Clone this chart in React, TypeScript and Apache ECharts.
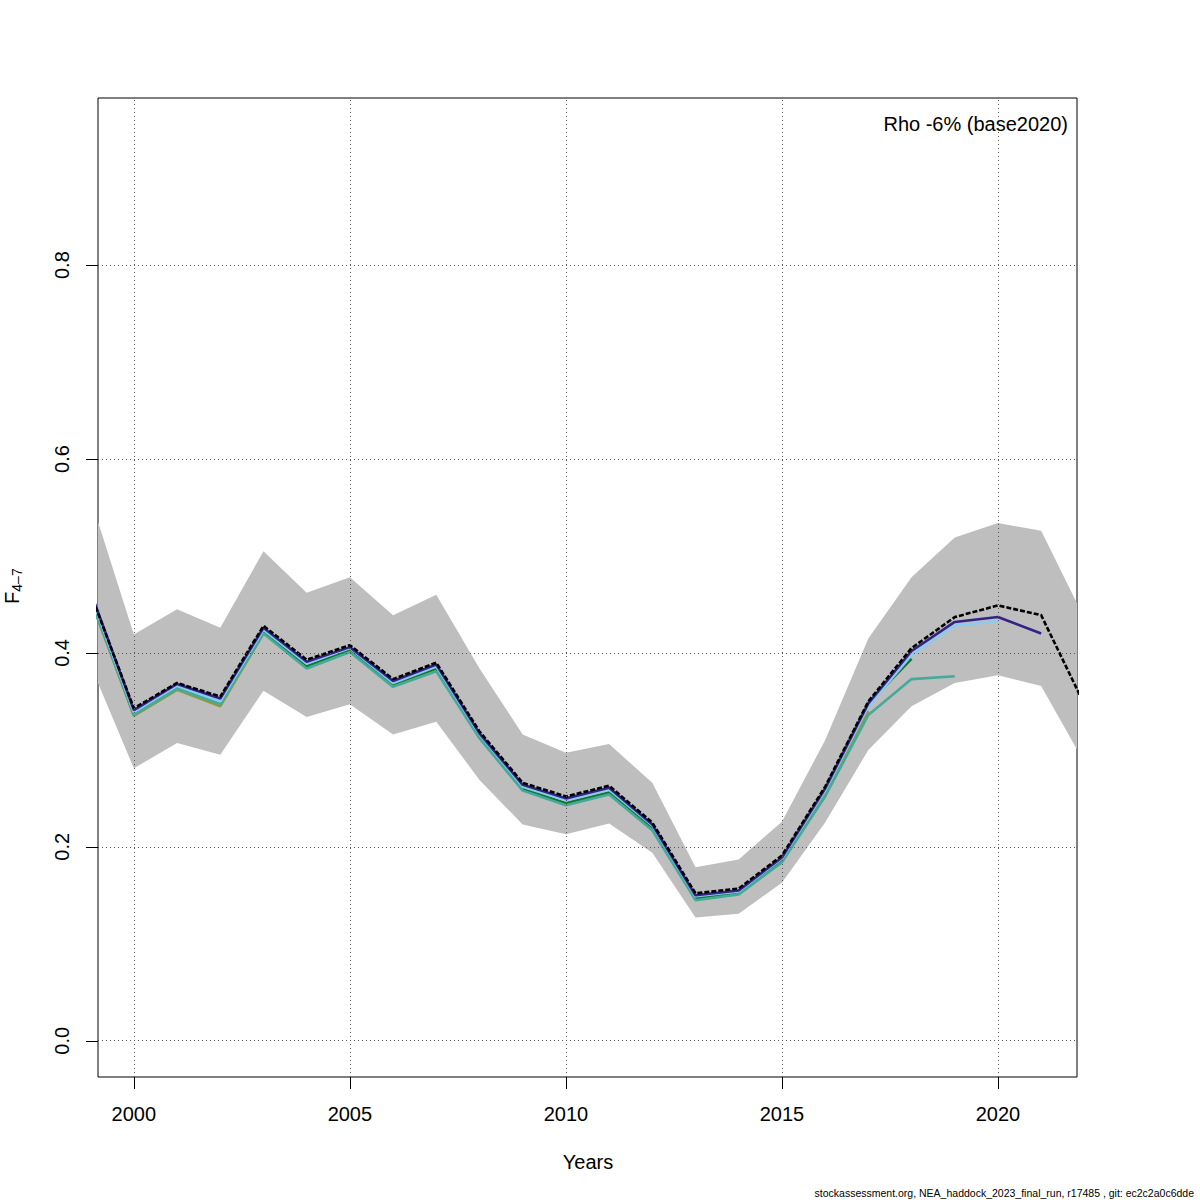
import React, { useEffect, useRef } from "react";
import * as echarts from "echarts";

const years = [1999, 2000, 2001, 2002, 2003, 2004, 2005, 2006, 2007, 2008, 2009, 2010, 2011, 2012, 2013, 2014, 2015, 2016, 2017, 2018, 2019, 2020, 2021, 2022];

const baseF = [0.461, 0.343, 0.369, 0.355, 0.428, 0.393, 0.408, 0.373, 0.390, 0.319, 0.266, 0.252, 0.263, 0.225, 0.152, 0.157, 0.191, 0.262, 0.350, 0.405, 0.437, 0.449, 0.439, 0.347];
const bandUpper = [0.559, 0.419, 0.445, 0.426, 0.505, 0.462, 0.478, 0.439, 0.460, 0.384, 0.316, 0.297, 0.306, 0.266, 0.179, 0.187, 0.226, 0.310, 0.415, 0.478, 0.519, 0.534, 0.526, 0.436];
const bandLower = [0.387, 0.281, 0.307, 0.295, 0.361, 0.334, 0.347, 0.316, 0.329, 0.269, 0.223, 0.213, 0.224, 0.194, 0.127, 0.131, 0.163, 0.225, 0.300, 0.345, 0.369, 0.377, 0.366, 0.287];

const peel2021 = [0.463, 0.341, 0.368, 0.353, 0.426, 0.391, 0.406, 0.371, 0.388, 0.317, 0.264, 0.250, 0.261, 0.223, 0.150, 0.155, 0.189, 0.260, 0.348, 0.402, 0.432, 0.437, 0.420];
const peel2020 = [0.460, 0.339, 0.366, 0.350, 0.424, 0.389, 0.405, 0.369, 0.386, 0.316, 0.262, 0.248, 0.259, 0.222, 0.149, 0.154, 0.188, 0.258, 0.345, 0.398, 0.428, 0.433];
const peel2019 = [0.455, 0.336, 0.363, 0.347, 0.420, 0.384, 0.401, 0.365, 0.381, 0.312, 0.258, 0.243, 0.254, 0.217, 0.145, 0.151, 0.184, 0.252, 0.336, 0.373, 0.376];
const peel2018 = [0.457, 0.337, 0.364, 0.348, 0.422, 0.386, 0.403, 0.368, 0.384, 0.314, 0.260, 0.245, 0.256, 0.219, 0.147, 0.153, 0.187, 0.260, 0.348, 0.394];
const peel2017 = [0.455, 0.335, 0.362, 0.345, 0.420, 0.386, 0.403, 0.367, 0.384, 0.313, 0.259, 0.244, 0.255, 0.218, 0.147, 0.153, 0.186, 0.256, 0.340];

const xTicks = [2000, 2005, 2010, 2015, 2020];
const yTicks = [0, 0.2, 0.4, 0.6, 0.8];

const X_MIN = 1999.17;
const X_MAX = 2021.83;
const Y_MIN = -0.0374;
const Y_MAX = 0.9724;

const FONT = "Liberation Sans, Arial, Helvetica, sans-serif";

function pairs(arr: number[]) {
  return arr.map((v, i) => [years[i], v]);
}

export default function App() {
  const ref = useRef<HTMLDivElement>(null);
  useEffect(() => {
    if (!ref.current) return;
    const chart = echarts.init(ref.current, undefined, { renderer: "svg" });
    const peels = [
      { name: "2017", data: peel2017, color: "#999933" },
      { name: "2018", data: peel2018, color: "#117733" },
      { name: "2019", data: peel2019, color: "#44AA99" },
      { name: "2020", data: peel2020, color: "#88CCEE" },
      { name: "2021", data: peel2021, color: "#332288" },
    ];
    const texts: any[] = [
      {
        type: "text",
        x: 1068,
        y: 124,
        style: { text: "Rho -6% (base2020)", fontSize: 20, fontFamily: FONT, fill: "#000", align: "right", verticalAlign: "middle" },
      },
      {
        type: "text",
        x: 588,
        y: 1162,
        style: { text: "Years", fontSize: 20, fontFamily: FONT, fill: "#000", align: "center", verticalAlign: "middle" },
      },
      {
        type: "text",
        x: 12,
        y: 598,
        rotation: Math.PI / 2,
        style: { text: "F", fontSize: 20, fontFamily: FONT, fill: "#000", align: "center", verticalAlign: "middle" },
      },
      {
        type: "text",
        x: 17,
        y: 580,
        rotation: Math.PI / 2,
        style: { text: "4\u20137", fontSize: 14, fontFamily: FONT, fill: "#000", align: "center", verticalAlign: "middle" },
      },
      {
        type: "text",
        x: 1194,
        y: 1193,
        style: {
          text: "stockassessment.org, NEA_haddock_2023_final_run, r17485 , git: ec2c2a0c6dde",
          fontSize: 10.5,
          fontFamily: FONT,
          fill: "#000",
          align: "right",
          verticalAlign: "middle",
        },
      },
    ];
    const option: any = {
      animation: false,
      backgroundColor: "#ffffff",
      grid: {
        left: 98,
        top: 98,
        width: 979,
        height: 979,
        show: true,
        borderColor: "#000",
        borderWidth: 1,
        backgroundColor: "transparent",
      },
      xAxis: {
        type: "value",
        min: X_MIN,
        max: X_MAX,
        axisLine: { show: false, onZero: false },
        splitLine: { show: false },
        axisTick: { show: false },
        axisLabel: {
          customValues: xTicks,
          fontSize: 20,
          color: "#000",
          fontFamily: FONT,
          margin: 27,
          formatter: (v: number) => String(v),
        },
      },
      yAxis: {
        type: "value",
        min: Y_MIN,
        max: Y_MAX,
        axisLine: { show: false, onZero: false },
        splitLine: { show: false },
        axisTick: { show: false },
        axisLabel: {
          customValues: yTicks,
          fontSize: 20,
          color: "#000",
          fontFamily: FONT,
          rotate: 90,
          margin: 26,
          formatter: (v: number) => v.toFixed(1),
        },
      },
      series: [
        {
          type: "custom",
          name: "band",
          z: 1,
          clip: true,
          silent: true,
          data: years.map((y, i) => [y, bandLower[i], bandUpper[i]]),
          renderItem: (params: any, api: any) => {
            if (params.dataIndex !== 0) return null;
            const pts: number[][] = [];
            for (let i = 0; i < years.length; i++) pts.push(api.coord([years[i], bandUpper[i]]));
            for (let i = years.length - 1; i >= 0; i--) pts.push(api.coord([years[i], bandLower[i]]));
            return {
              type: "polygon",
              shape: { points: pts },
              style: { fill: "#BEBEBE", stroke: "none" },
            };
          },
        },
        {
          type: "line",
          name: "grid",
          z: 2,
          data: [],
          silent: true,
          markLine: {
            silent: true,
            symbol: "none",
            label: { show: false },
            lineStyle: { color: "#555", width: 1, type: [1, 3] },
            data: [
              ...xTicks.map((x) => ({ xAxis: x })),
              ...yTicks.map((y) => ({ yAxis: y })),
            ],
          },
        },
        ...peels.map((p) => ({
          type: "line",
          name: p.name,
          z: 3,
          data: pairs(p.data),
          showSymbol: false,
          symbol: "none",
          clip: true,
          lineStyle: { color: p.color, width: 2.6 },
        })),
        {
          type: "line",
          name: "base2020",
          z: 4,
          data: pairs(baseF),
          showSymbol: false,
          symbol: "none",
          clip: true,
          lineStyle: { color: "#000", width: 2.6, type: [5, 2] },
        },
      ],
      graphic: texts,
    };
    chart.setOption(option);

    const ticks: any[] = [];
    xTicks.forEach((x) => {
      const p = chart.convertToPixel({ gridIndex: 0 }, [x, Y_MIN]) as number[];
      if (p && isFinite(p[0])) {
        const px = Math.round(p[0]) + 0.5;
        ticks.push({
          type: "line",
          z: 100,
          shape: { x1: px, y1: p[1], x2: px, y2: p[1] + 12 },
          style: { stroke: "#000", lineWidth: 1 },
        });
      }
    });
    yTicks.forEach((y) => {
      const p = chart.convertToPixel({ gridIndex: 0 }, [X_MIN, y]) as number[];
      if (p && isFinite(p[1])) {
        const py = Math.round(p[1]) + 0.5;
        ticks.push({
          type: "line",
          z: 100,
          shape: { x1: p[0] - 12, y1: py, x2: p[0], y2: py },
          style: { stroke: "#000", lineWidth: 1 },
        });
      }
    });
    chart.setOption({ graphic: [...texts, ...ticks] });

    return () => chart.dispose();
  }, []);
  return (
    <div
      ref={ref}
      style={{ position: "absolute", left: 0, top: 0, width: 1200, height: 1200, background: "#fff" }}
    />
  );
}
